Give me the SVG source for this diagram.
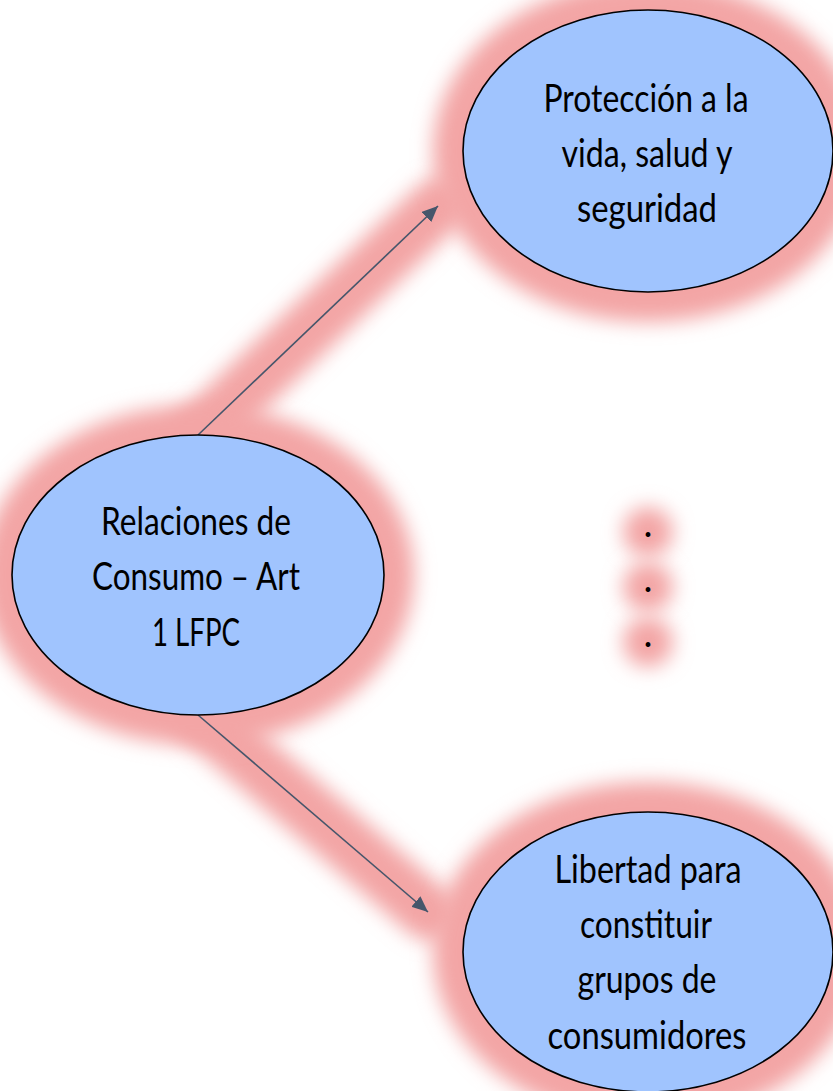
<svg xmlns="http://www.w3.org/2000/svg" width="833" height="1091" viewBox="0 0 833 1091">
<style>
.glow{fill:#f3a5a5;filter:url(#blur)}
.glowline{stroke:#f3a5a5;stroke-width:56;fill:none;filter:url(#blur);stroke-linecap:round}
.node{fill:#a0c4fe;stroke:#000;stroke-width:1.6}
.lbl{font-family:Lato,"Liberation Sans",sans-serif;font-size:38px;fill:#000;text-anchor:middle}
.conn{stroke:#46566b;stroke-width:1.6;fill:none}
</style>
<defs>
<filter id="blur" x="-50%" y="-50%" width="200%" height="200%"><feGaussianBlur stdDeviation="10"/></filter>
<marker id="arr" markerUnits="userSpaceOnUse" markerWidth="18" markerHeight="14" refX="16" refY="7" orient="auto"><path d="M0,0 L16,7 L0,14 Z" fill="#46566b"/></marker>
</defs>
<rect width="833" height="1091" fill="#fff"/>
<g id="connectors">
<line class="glowline" x1="198" y1="435" x2="438" y2="206"/>
<line class="glowline" x1="198" y1="715" x2="428" y2="912"/>
</g>
<g id="dots">
<circle class="glow" cx="648" cy="532" r="25"/>
<circle class="glow" cx="648" cy="587" r="25"/>
<circle class="glow" cx="648" cy="642" r="25"/>
</g>
<g id="node-left-glow"><ellipse class="glow" cx="198" cy="575" rx="216" ry="170"/></g>
<g id="node-top-glow"><ellipse class="glow" cx="648" cy="151" rx="215" ry="171"/></g>
<g id="node-bottom-glow"><ellipse class="glow" cx="648" cy="952" rx="215" ry="170"/></g>
<g id="connector-lines">
<line class="conn" x1="198" y1="435" x2="438" y2="206" marker-end="url(#arr)"/>
<line class="conn" x1="198" y1="715" x2="428" y2="912" marker-end="url(#arr)"/>
</g>
<g id="n-left">
<ellipse class="node" cx="198" cy="575" rx="186" ry="140"/>
<text class="lbl" x="196" y="535" textLength="190" lengthAdjust="spacingAndGlyphs">Relaciones de</text>
<text class="lbl" x="196" y="590" textLength="208" lengthAdjust="spacingAndGlyphs">Consumo – Art</text>
<text class="lbl" x="196" y="646" textLength="88" lengthAdjust="spacingAndGlyphs">1 LFPC</text>
</g>
<g id="n-top">
<ellipse class="node" cx="648" cy="151" rx="185" ry="141"/>
<text class="lbl" x="646" y="112" textLength="205" lengthAdjust="spacingAndGlyphs">Protección a la</text>
<text class="lbl" x="647" y="167" textLength="171" lengthAdjust="spacingAndGlyphs">vida, salud y</text>
<text class="lbl" x="647" y="222" textLength="140" lengthAdjust="spacingAndGlyphs">seguridad</text>
</g>
<g id="n-bottom">
<ellipse class="node" cx="648" cy="952" rx="185" ry="140"/>
<text class="lbl" x="648" y="883" textLength="187" lengthAdjust="spacingAndGlyphs">Libertad para</text>
<text class="lbl" x="646" y="938" textLength="132" lengthAdjust="spacingAndGlyphs">constituir</text>
<text class="lbl" x="647" y="993" textLength="139" lengthAdjust="spacingAndGlyphs">grupos de</text>
<text class="lbl" x="647" y="1049" textLength="199" lengthAdjust="spacingAndGlyphs">consumidores</text>
</g>
<g id="dot-text">
<text class="lbl" x="648" y="537">.</text>
<text class="lbl" x="648" y="592">.</text>
<text class="lbl" x="648" y="647">.</text>
</g>
</svg>
